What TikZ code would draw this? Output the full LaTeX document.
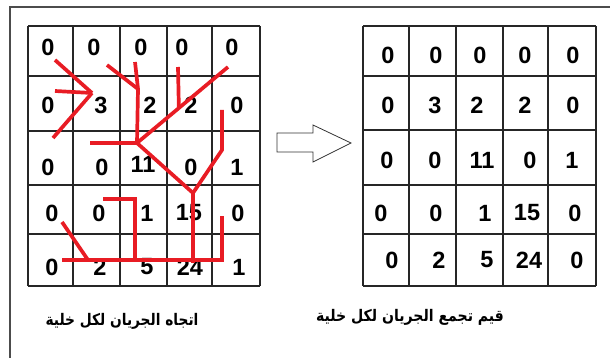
\documentclass[tikz,border=0pt]{standalone}
\usepackage{fontspec}
\usetikzlibrary{calc}
\setmainfont{Liberation Sans}
\newfontfamily\arabicfont[Script=Arabic]{DejaVu Sans}
\TeXXeTstate=1
\begin{document}
\begin{tikzpicture}[x=1pt,y=-1pt,
  gridline/.style={draw=black!85,line width=1.1pt},
  framel/.style={draw=black!70,line width=1.3pt},
  num/.style={font=\fontsize{23.5}{24}\selectfont\bfseries,inner sep=0pt},
  flow/.style={draw={rgb,255:red,232;green,28;blue,36},line width=3.7pt,line cap=butt,line join=miter},
  captext/.style={font=\arabicfont\bfseries\fontsize{16}{18}\selectfont,inner sep=0pt},
  bigarrow/.style={draw=black!80,line width=0.8pt,fill=white}]
\useasboundingbox (0,0) rectangle (610,358);
% frame
\draw[framel] (10,358) -- (10,7) -- (610,7);
% grids
\foreach \x in {28,73,120,167,212,260} \draw[gridline] (\x,26) -- (\x,286);
\foreach \y in {26,76,131,185,234,286} \draw[gridline] (28,\y) -- (260,\y);
\foreach \x in {363,409,456,503,548,596} \draw[gridline] (\x,26) -- (\x,286);
\foreach \y in {26,76,130,185,234,286} \draw[gridline] (363,\y) -- (596,\y);
% left numbers
\foreach \n/\x/\y/\t in {
 a1/48/47/0,a2/94/47/0,a3/141/47/0,a4/182/47/0,a5/232/47/0,
 b1/48/105/0,b2/101/105/3,b3/150/105/2,b4/191/105/2,b5/237/105/0,
 c1/48/167/0,c2/102/167/0,c3/143/164/11,c4/191/167/0,c5/237/167/1,
 d1/52/213/0,d2/99/213/0,d3/147/213/1,d4/189/213/15,d5/238/213/0,
 e1/52/267/0,e2/100/267/2,e3/147/267/5,e4/190/267/24,e5/239/267/1}
 \node[num] (l\n) at (\x,\y) {\t};
% right numbers
\foreach \n/\x/\y/\t in {
 a1/388/55/0,a2/436/55/0,a3/480/55/0,a4/525/55/0,a5/573/55/0,
 b1/388/105/0,b2/435/105/3,b3/477/105/2,b4/525/105/2,b5/573/105/0,
 c1/387/160/0,c2/435/160/0,c3/482/160/11,c4/530/160/0,c5/572/160/1,
 d1/381/213/0,d2/436/213/0,d3/485/213/1,d4/527/213/15,d5/575/213/0,
 e1/392/260/0,e2/439/260/2,e3/487/260/5,e4/529/260/24,e5/577/260/0}
 \node[num] (r\n) at (\x,\y) {\t};
% flow direction lines
\coordinate (j1) at (92,93);
\coordinate (j2) at (138,89);
\coordinate (j3) at (137,143);
\coordinate (j4) at (193,193);
\coordinate (p1) at (55,60);
\coordinate (p2) at (55,91);
\coordinate (p3) at (53,138);
\coordinate (p4) at (107,65);
\coordinate (p5) at (135,62);
\coordinate (p6) at (90,143);
\coordinate (p7) at (178,67);
\coordinate (p8) at (228,67);
\coordinate (p9) at (222,110);
\coordinate (p10) at (222,150);
\coordinate (p11) at (193,263);
\coordinate (p12) at (103,199);
\coordinate (p13) at (135,199);
\coordinate (p14) at (135,260);
\coordinate (p15) at (62,222);
\coordinate (p16) at (88,260);
\coordinate (p17) at (62,260);
\coordinate (p18) at (222,260);
\coordinate (p19) at (222,216);
\coordinate (g1) at ($(p8)!0.54!(j3)$);
\draw[flow] (p1) -- (j1);
\draw[flow] (p2) -- (j1);
\draw[flow] (p3) -- (j1);
\draw[flow] (p4) -- (j2);
\draw[flow] (p5) -- (j2) -- (j3);
\draw[flow] (p6) -- (j3);
\draw[flow] (p7) -- (g1);
\draw[flow] (p8) -- (j3);
\draw[flow] (j3) -- (j4);
\draw[flow] (p9) -- (p10) -- (j4);
\draw[flow] (j4) -- (p11);
\draw[flow] (p12) -- (p13) -- (p14);
\draw[flow] (p15) -- (p16);
\draw[flow] (p17) -- (p18) -- (p19);
% big arrow
\draw[bigarrow] (277,133) -- (313,133) -- (313,125) -- (351,143) -- (313,162) -- (313,152) -- (277,152) -- cycle;
% captions
\node[captext] (capl) at (122,321) {\scalebox{0.86}[1]{\beginR اتجاه الجريان لكل خلية\endR}};
\node[captext] (capr) at (410,317) {\scalebox{0.88}[1]{\beginR قيم تجمع الجريان لكل خلية\endR}};
\end{tikzpicture}
\end{document}
